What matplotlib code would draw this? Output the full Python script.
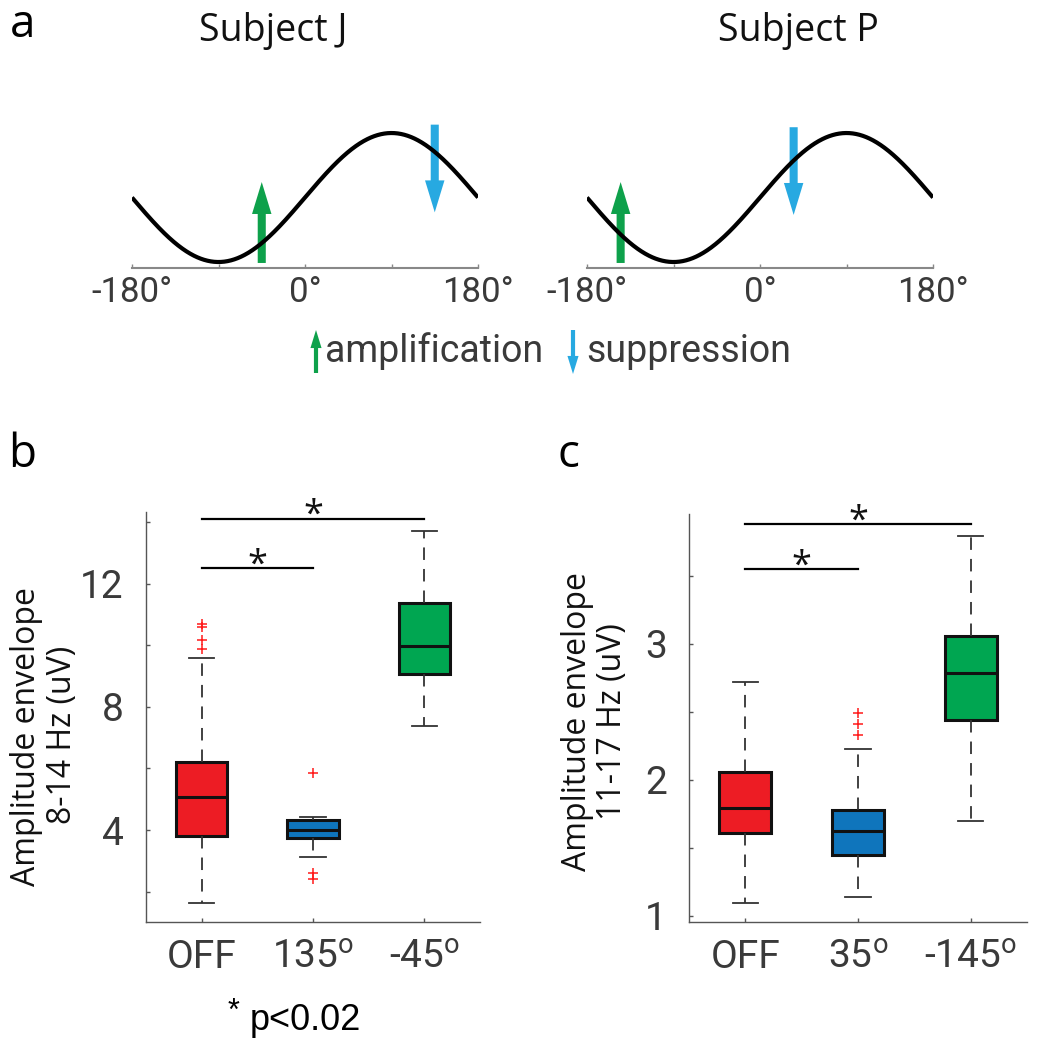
import numpy as np
import matplotlib
matplotlib.use("Agg")
import matplotlib.pyplot as plt
from matplotlib.patches import FancyArrowPatch
from matplotlib.patches import ArrowStyle

# ---------------- data ----------------
subjects = ["Subject J", "Subject P"]
amp_phase = [-45, -145]      # amplification stimulation phase (deg)
sup_phase = [135, 35]        # suppression stimulation phase (deg)
phase_ticks = [-180, -90, 0, 90, 180]
phase_ticklabels = ["-180°", "", "0°", "", "180°"]

cats_b = ["OFF", "135$^{\\mathregular{o}}$", "-45$^{\\mathregular{o}}$"]
b_whislo = [1.65, 3.13, 7.37]
b_q1 = [3.81, 3.74, 9.08]
b_med = [5.06, 4.00, 9.98]
b_q3 = [6.22, 4.32, 11.36]
b_whishi = [9.59, 4.44, 13.70]
b_fliers = [[9.89, 10.18, 10.60, 10.68], [2.43, 2.62, 5.84], []]
b_sig = [(1, 3, 14.10), (1, 2, 12.49)]

cats_c = ["OFF", "35$^{\\mathregular{o}}$", "-145$^{\\mathregular{o}}$"]
c_whislo = [1.09, 1.137, 1.694]
c_q1 = [1.605, 1.446, 2.439]
c_med = [1.794, 1.625, 2.787]
c_q3 = [2.059, 1.779, 3.061]
c_whishi = [2.718, 2.225, 3.792]
c_fliers = [[], [2.326, 2.409, 2.49], []]
c_sig = [(1, 3, 3.88), (1, 2, 3.55)]

box_colors = ["#ed1c24", "#0f75bc", "#00a651"]
GREEN = "#0ea14b"
BLUE = "#27a9e1"

# ---------------- figure ----------------
W, H = 1039, 1050
fig = plt.figure(figsize=(W / 100, H / 100), dpi=100)
plt.rcParams["lines.scale_dashes"] = False
plt.rcParams["mathtext.default"] = "regular"

def rect(l, t, r, b):
    return [l / W, 1 - b / H, (r - l) / W, (b - t) / H]

def fx(x):
    return x / W

def fy(y):
    return 1 - y / H

TICKC = "#3a3a3a"
SPINEC = "#555555"

# ---------------- panel a ----------------
phase = np.linspace(-180, 180, 721)
title_x = [273, 798]
for i, (l, r) in enumerate([(132, 478), (587, 933)]):
    ax = fig.add_axes(rect(l, 110, r, 268))
    ax.plot(phase, np.sin(np.deg2rad(phase)), color="black", lw=3.0,
            solid_capstyle="butt")
    ax.set_xlim(-180, 180)
    ax.set_ylim(-1.093, 1.357)
    for s in ["top", "right", "left"]:
        ax.spines[s].set_visible(False)
    ax.spines["bottom"].set_color("#888888")
    ax.spines["bottom"].set_linewidth(1.5)
    ax.set_yticks([])
    ax.set_xticks(phase_ticks)
    ax.set_xticklabels(phase_ticklabels, family="Roboto", fontsize=25,
                       color=TICKC)
    ax.tick_params(axis="x", direction="in", length=3, width=1,
                   color="#888888", pad=6)
    ax.patch.set_visible(False)
    st_up = ArrowStyle.Simple(head_length=23, head_width=14, tail_width=5.8)
    ax.add_patch(FancyArrowPatch((amp_phase[i], -1.015), (amp_phase[i], 0.24),
                                 arrowstyle=st_up, mutation_scale=1,
                                 color=GREEN, lw=0, shrinkA=0, shrinkB=0))
    ax.add_patch(FancyArrowPatch((sup_phase[i], 1.13 - 0.04 * i),
                                 (sup_phase[i], -0.23 - 0.04 * i),
                                 arrowstyle=st_up, mutation_scale=1,
                                 color=BLUE, lw=0, shrinkA=0, shrinkB=0))
    fig.text(fx(title_x[i]), fy(31), subjects[i], family="Open Sans",
             fontsize=27, ha="center", va="center", color="#111111")

# legend of panel a (figure overlay)
ov = fig.add_axes([0, 0, 1, 1])
ov.set_xlim(0, W)
ov.set_ylim(H, 0)
ov.axis("off")
ov.patch.set_visible(False)
st_small = ArrowStyle.Simple(head_length=13, head_width=8, tail_width=3)
ov.add_patch(FancyArrowPatch((316, 373), (316, 330), arrowstyle=st_small,
                             mutation_scale=1, color=GREEN, lw=0,
                             shrinkA=0, shrinkB=0))
ov.add_patch(FancyArrowPatch((573, 330), (573, 374), arrowstyle=st_small,
                             mutation_scale=1, color=BLUE, lw=0,
                             shrinkA=0, shrinkB=0))
ov.text(325, 362, "amplification", family="Roboto", fontsize=27,
        color=TICKC, ha="left", va="baseline")
ov.text(586, 362, "suppression", family="Roboto", fontsize=27,
        color=TICKC, ha="left", va="baseline")

# panel letters
ov.text(10, 37, "a", family="Open Sans", fontsize=33, color="black",
        ha="left", va="baseline")
ov.text(8, 467, "b", family="Open Sans", fontsize=33, color="black",
        ha="left", va="baseline")
ov.text(558, 467, "c", family="Open Sans", fontsize=33, color="black",
        ha="left", va="baseline")

# ---------------- panels b, c ----------------
def box_panel(rc, cats, wl, q1, med, q3, wh, fl, sig, ylim, yticks,
              ylabels_at):
    ax = fig.add_axes(rc)
    stats = []
    for k in range(len(cats)):
        stats.append(dict(whislo=wl[k], q1=q1[k], med=med[k], q3=q3[k],
                          whishi=wh[k], fliers=fl[k]))
    res = ax.bxp(stats, positions=[1, 2, 3], widths=0.46, capwidths=0.225,
                 patch_artist=True, showfliers=True,
                 boxprops=dict(edgecolor="#111111", linewidth=2.2),
                 medianprops=dict(color="#111111", linewidth=2.2),
                 whiskerprops=dict(color="#333333", linewidth=1.3,
                                   linestyle=(0, (9, 6.5))),
                 capprops=dict(color="#333333", linewidth=1.3),
                 flierprops=dict(marker="+", markeredgecolor="#ff1a1a",
                                 markersize=7, markeredgewidth=1.1))
    for patch, c in zip(res["boxes"], box_colors):
        patch.set_facecolor(c)
    for (a, b, y) in sig:
        ax.plot([a, b], [y, y], color="black", lw=1.6, clip_on=False)
        ax.annotate("*", ((a + b) / 2, y), xytext=(0, -11),
                    textcoords="offset points", ha="center", va="bottom",
                    family="Open Sans", fontsize=26, color="#111111",
                    annotation_clip=False)
    ax.set_xlim(0.5, 3.5)
    ax.set_ylim(*ylim)
    for s in ["top", "right"]:
        ax.spines[s].set_visible(False)
    for s in ["left", "bottom"]:
        ax.spines[s].set_color(SPINEC)
        ax.spines[s].set_linewidth(1.0)
    ax.set_xticks([1, 2, 3])
    ax.set_xticklabels(cats, family="Roboto", fontsize=28, color=TICKC)
    ax.set_yticks(yticks)
    ax.set_yticklabels([(("%g" % t) if t in ylabels_at else "") for t in yticks],
                       family="Roboto", fontsize=28, color=TICKC)
    ax.tick_params(direction="in", length=3, width=1, color=SPINEC)
    ax.tick_params(axis="x", pad=12)
    ax.tick_params(axis="y", pad=16)
    ax.patch.set_visible(False)
    return ax

box_panel(rect(146, 512, 480, 922), cats_b, b_whislo, b_q1, b_med, b_q3,
          b_whishi, b_fliers, b_sig, (1.02, 14.32), [2, 4, 6, 8, 10, 12, 14],
          [4, 8, 12])
box_panel(rect(689, 514, 1027, 922), cats_c, c_whislo, c_q1, c_med, c_q3,
          c_whishi, c_fliers, c_sig, (0.953, 3.956),
          [1, 1.5, 2, 2.5, 3, 3.5], [1, 2, 3])

# y labels
ov.text(27, 737, "Amplitude envelope", rotation=90, family="Open Sans",
        fontsize=23, color="#111111", ha="center", va="center")
ov.text(63, 735, "8-14 Hz (uV)", rotation=90, family="Open Sans",
        fontsize=23, color="#111111", ha="center", va="center")
ov.text(577, 722, "Amplitude envelope", rotation=90, family="Open Sans",
        fontsize=23, color="#111111", ha="center", va="center")
ov.text(612, 722, "11-17 Hz (uV)", rotation=90, family="Open Sans",
        fontsize=23, color="#111111", ha="center", va="center")

# p-value note
ov.text(228, 1020, "*", family="Liberation Sans", fontsize=22, color="black",
        ha="left", va="baseline")
ov.text(250, 1030, "p<0.02", family="Liberation Sans", fontsize=26,
        color="black", ha="left", va="baseline")

fig.savefig("out.png", dpi=100)
